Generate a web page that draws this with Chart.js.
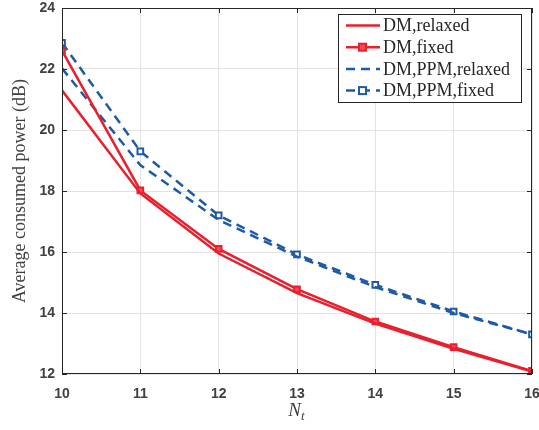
<!DOCTYPE html>
<html><head><meta charset="utf-8">
<script src="https://cdn.jsdelivr.net/npm/chart.js@4/dist/chart.umd.min.js"></script>
<style>html,body{margin:0;padding:0;background:#fff}#wrap{width:539px;height:430px}</style>
</head><body><div id="wrap"><canvas id="c" width="539" height="430"></canvas></div>
<script>
const categories = [10, 11, 12, 13, 14, 15, 16];
const dmRelaxed = [21.3, 17.92, 15.95, 14.65, 13.65, 12.83, 12.08];
const dmFixed = [22.6, 18.02, 16.1, 14.78, 13.72, 12.88, 12.1];
const ppmRelaxed = [22.02, 18.85, 17.05, 15.85, 14.85, 14.0, 13.3];
const ppmFixed = [22.86, 19.3, 17.2, 15.92, 14.92, 14.05, 13.3];
const seriesNames = ['DM,relaxed', 'DM,fixed', 'DM,PPM,relaxed', 'DM,PPM,fixed'];
const yTicks = [12, 14, 16, 18, 20, 22, 24];

const RED = '#e8202e', BLUE = '#1f5aa6', AX = '#262626';
const mk = (arr) => arr.map((v, i) => ({x: categories[i], y: v}));

const frame = {
  id: 'frame',
  afterDraw(chart) {
    const {ctx, chartArea: a, scales: {x, y}} = chart;
    ctx.save();
    ctx.strokeStyle = AX; ctx.lineWidth = 1;
    ctx.beginPath();
    ctx.rect(a.left + 0.5, a.top + 0.5, a.right - a.left - 1, a.bottom - a.top - 1);
    ctx.stroke();
    ctx.beginPath();
    categories.forEach(v => { const px = Math.round(x.getPixelForValue(v)) + 0.5;
      ctx.moveTo(px, a.bottom); ctx.lineTo(px, a.bottom - 5);
      ctx.moveTo(px, a.top); ctx.lineTo(px, a.top + 5); });
    yTicks.forEach(v => { const py = Math.round(y.getPixelForValue(v)) + 0.5;
      ctx.moveTo(a.left, py); ctx.lineTo(a.left + 5, py);
      ctx.moveTo(a.right, py); ctx.lineTo(a.right - 5, py); });
    ctx.stroke();
    ctx.fillStyle = '#404040';
    ctx.font = '18px "Liberation Serif"';
    ctx.textAlign = 'center'; ctx.textBaseline = 'middle';
    ctx.save();
    ctx.translate(20, (a.top + a.bottom) / 2);
    ctx.rotate(-Math.PI / 2);
    ctx.fillText('Average consumed power (dB)', 0, 0);
    ctx.restore();
    const cx = (a.left + a.right) / 2;
    ctx.font = 'italic 19px "Liberation Serif"';
    ctx.textAlign = 'right';
    ctx.fillText('N', cx + 4, 411);
    ctx.font = 'italic 13px "Liberation Serif"';
    ctx.textAlign = 'left';
    ctx.fillText('t', cx + 4, 417);
    // legend
    const lx = 338, ly = 14, lw = 183, lh = 88;
    ctx.fillStyle = '#fff';
    ctx.fillRect(lx, ly, lw, lh);
    ctx.strokeStyle = '#262626'; ctx.lineWidth = 1;
    ctx.strokeRect(lx + 0.5, ly + 0.5, lw, lh);
    chart.data.datasets.forEach((ds, i) => {
      const yy = ly + 11.5 + i * 21.7;
      ctx.strokeStyle = ds.borderColor; ctx.lineWidth = 2.5;
      ctx.setLineDash(ds.borderDash || []);
      ctx.beginPath(); ctx.moveTo(lx + 8, yy); ctx.lineTo(lx + 42, yy); ctx.stroke();
      ctx.setLineDash([]);
      if (ds.pointRadius > 0) {
        ctx.fillStyle = ds.pointBackgroundColor; ctx.lineWidth = 2;
        ctx.strokeStyle = ds.borderColor;
        ctx.fillRect(lx + 21, yy - 3.5, 7, 7);
        ctx.strokeRect(lx + 21, yy - 3.5, 7, 7);
      }
      ctx.fillStyle = '#262626';
      ctx.font = '18px "Liberation Serif"';
      ctx.textAlign = 'left'; ctx.textBaseline = 'middle';
      ctx.fillText(ds.label, lx + 45, yy + 1);
    });
    ctx.restore();
  }
};

new Chart(document.getElementById('c'), {
  type: 'line',
  data: {
    datasets: [
      {label: seriesNames[0], data: mk(dmRelaxed), borderColor: RED, borderWidth: 2.5, pointRadius: 0, pointBackgroundColor: RED},
      {label: seriesNames[1], data: mk(dmFixed), borderColor: RED, borderWidth: 2.5, pointRadius: 4, pointStyle: 'rect', pointBackgroundColor: '#f24a55', pointBorderColor: RED, pointBorderWidth: 2},
      {label: seriesNames[2], data: mk(ppmRelaxed), borderColor: BLUE, borderWidth: 2.5, borderDash: [9, 6], pointRadius: 0, pointBackgroundColor: BLUE},
      {label: seriesNames[3], data: mk(ppmFixed), borderColor: BLUE, borderWidth: 2.5, borderDash: [9, 6], pointRadius: 4, pointStyle: 'rect', pointBackgroundColor: '#ffffff', pointBorderColor: BLUE, pointBorderWidth: 2}
    ]
  },
  options: {
    responsive: false, animation: false,
    layout: {padding: {top: 8, right: 7, left: 0, bottom: 0}},
    plugins: {legend: {display: false}, tooltip: {enabled: false}},
    elements: {line: {tension: 0}},
    scales: {
      x: {type: 'linear', min: 10, max: 16,
        afterBuildTicks: s => { s.ticks = categories.map(v => ({value: v})); },
        afterFit: s => { s.height = 56; s.paddingLeft = 0; s.paddingRight = 0; },
        grid: {color: '#e3e3e3', drawTicks: false},
        border: {display: false},
        ticks: {padding: 12, color: '#404040', font: {family: '"Liberation Sans"', weight: 'bold', size: 14}}
      },
      y: {min: 12, max: 24,
        afterBuildTicks: s => { s.ticks = yTicks.map(v => ({value: v})); },
        afterFit: s => { s.width = 62; s.paddingTop = 0; s.paddingBottom = 0; },
        grid: {color: '#e3e3e3', drawTicks: false},
        border: {display: false},
        ticks: {padding: 7, color: '#404040', font: {family: '"Liberation Sans"', weight: 'bold', size: 14}}
      }
    }
  },
  plugins: [frame]
});
</script></body></html>
